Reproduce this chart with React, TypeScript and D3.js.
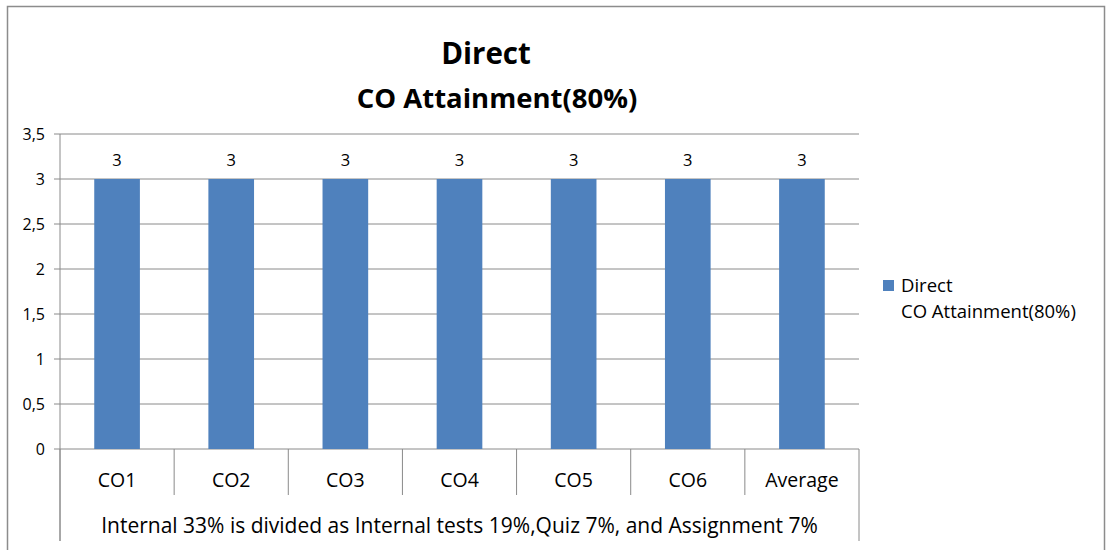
import React from "react";
import * as d3 from "d3";

const categories = ["CO1", "CO2", "CO3", "CO4", "CO5", "CO6", "Average"];
const directValues = [3, 3, 3, 3, 3, 3, 3];
const yTicks = [0, 0.5, 1, 1.5, 2, 2.5, 3, 3.5];
const titleLines = ["Direct", "CO Attainment(80%)"];
const groupLabel =
  "Internal 33% is divided as Internal tests 19%,Quiz 7%, and Assignment 7%";

const W = 1108;
const H = 550;
const plot = { left: 60, right: 859, top: 134, bottom: 449 };
const font = "'Open Sans', 'Noto Sans', sans-serif";
const gridColor = "#8a8a8a";
const barColor = "#4f81bd";

const fmt = (v: number) => String(v).replace(".", ",");

export default function App() {
  const y = d3.scaleLinear().domain([0, 3.5]).range([plot.bottom, plot.top]);
  const x = d3
    .scaleBand()
    .domain(categories)
    .range([plot.left, plot.right])
    .paddingInner(0)
    .paddingOuter(0);
  const bw = x.bandwidth() * 0.4;
  const bounds = categories.map((c) => x(c) as number).concat(plot.right);

  return (
    <svg
      width={W}
      height={H}
      style={{ position: "absolute", left: 0, top: 0, background: "#fff" }}
      fontFamily={font}
    >
      <rect
        x={7.5}
        y={6.5}
        width={1097}
        height={600}
        fill="#fff"
        stroke="#8c8c8c"
        strokeWidth={1.5}
      />

      {/* title */}
      <g textAnchor="middle" fontWeight="bold" fill="#000">
        <text x={486} y={64} fontSize={29.5}>
          {titleLines[0]}
        </text>
        <text x={497} y={108} fontSize={27.5}>
          {titleLines[1]}
        </text>
      </g>

      {/* grid + y ticks */}
      <g>
        {yTicks.map((t) => (
          <g key={t}>
            <line
              x1={plot.left - 6}
              x2={plot.right}
              y1={y(t)}
              y2={y(t)}
              stroke={gridColor}
              strokeWidth={1}
            />
            <text
              x={45}
              y={y(t)}
              dy="0.35em"
              textAnchor="end"
              fontSize={16}
              fill="#000"
            >
              {fmt(t)}
            </text>
          </g>
        ))}
      </g>

      {/* bars */}
      {categories.map((c, i) => {
        const cx = (x(c) as number) + x.bandwidth() / 2;
        return (
          <g key={c}>
            <rect
              x={cx - bw / 2}
              y={y(directValues[i])}
              width={bw}
              height={y(0) - y(directValues[i])}
              fill={barColor}
            />
            <text
              x={cx}
              y={y(directValues[i]) - 13}
              textAnchor="middle"
              fontSize={16.5}
              fill="#000"
            >
              {directValues[i]}
            </text>
          </g>
        );
      })}

      {/* axes */}
      <line
        x1={plot.left}
        x2={plot.left}
        y1={plot.top}
        y2={541}
        stroke={gridColor}
      />
      {bounds.map((b, i) => (
        <line
          key={i}
          x1={b}
          x2={b}
          y1={plot.bottom}
          y2={i === 0 || i === bounds.length - 1 ? 541 : 495}
          stroke={gridColor}
        />
      ))}
      {categories.map((c) => (
        <text
          key={c}
          x={(x(c) as number) + x.bandwidth() / 2}
          y={487}
          textAnchor="middle"
          fontSize={19.5}
          fill="#000"
        >
          {c}
        </text>
      ))}
      <text
        x={(plot.left + plot.right) / 2}
        y={533}
        textAnchor="middle"
        fontSize={21}
        fill="#000"
      >
        {groupLabel}
      </text>

      {/* legend */}
      <rect x={883} y={280} width={11} height={11} fill={barColor} />
      <text x={901} y={292} fontSize={18.5} fill="#000">
        {titleLines[0]}
      </text>
      <text x={901} y={318} fontSize={18.5} fill="#000">
        {titleLines[1]}
      </text>
    </svg>
  );
}
